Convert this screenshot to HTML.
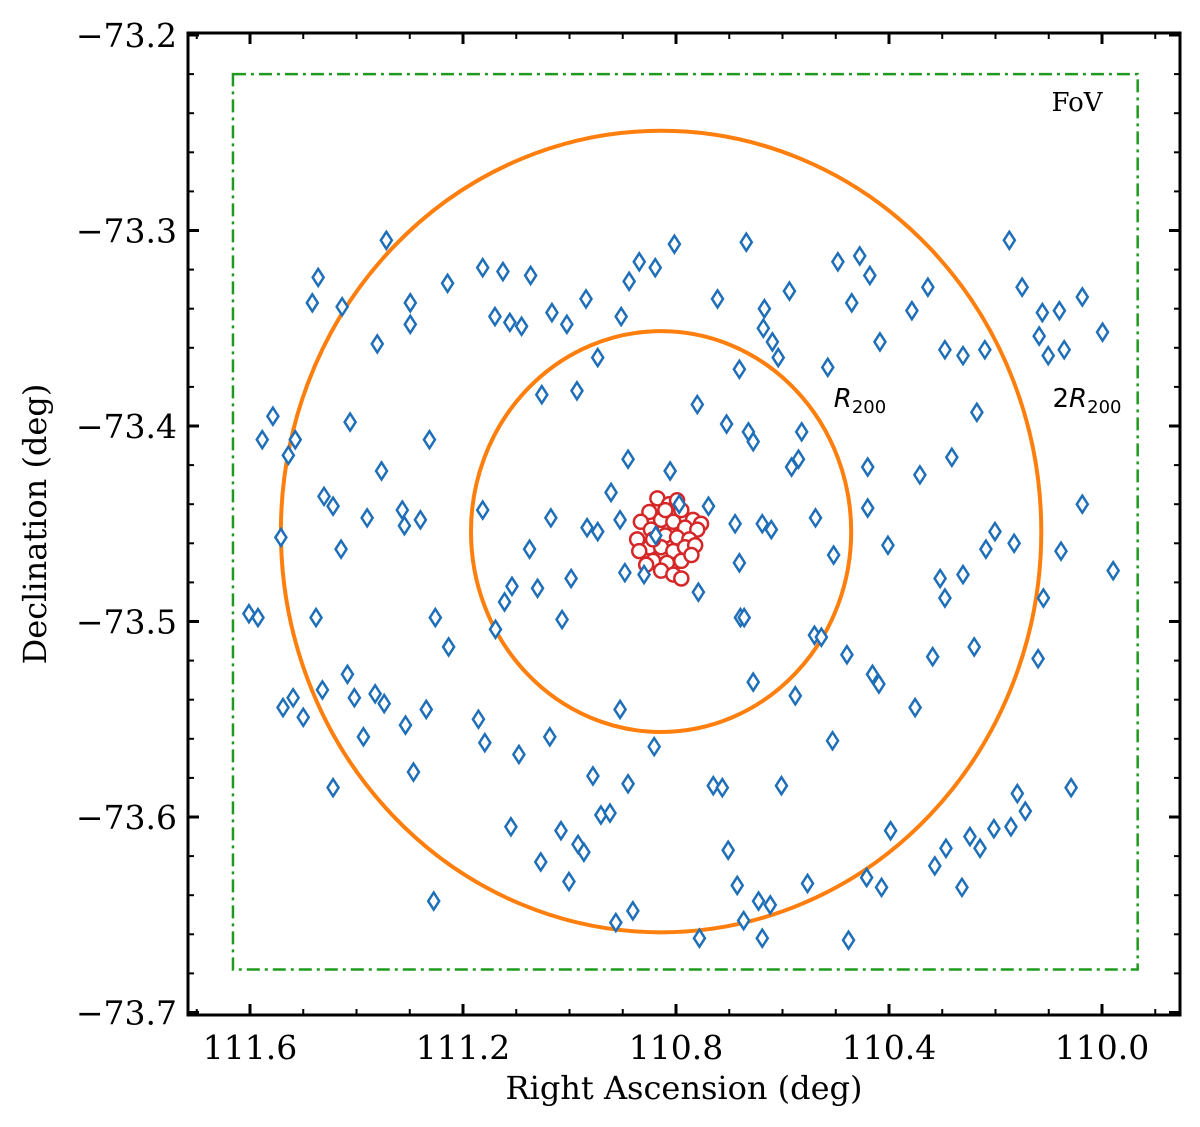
<!DOCTYPE html>
<html><head><meta charset="utf-8"><style>
body{margin:0;background:#fff}
svg{display:block;font-family:"DejaVu Serif","Liberation Serif",serif}
</style></head><body>
<svg id="chart" width="1200" height="1127" viewBox="0 0 1200 1127" xmlns="http://www.w3.org/2000/svg">
<g id="plot"></g>
<g id="axes"></g>
</svg>
<script>
const raTicks=[111.6,111.2,110.8,110.4,110.0];
const raTickLabels=["111.6","111.2","110.8","110.4","110.0"];
const decTicks=[-73.2,-73.3,-73.4,-73.5,-73.6,-73.7];
const decTickLabels=["\u221273.2","\u221273.3","\u221273.4","\u221273.5","\u221273.6","\u221273.7"];
const fieldRA=[111.344,111.472,111.483,111.427,111.602,111.585,111.557,111.577,111.515,111.528,111.542,111.476,111.461,111.444,111.412,111.429,111.361,111.299,111.299,111.353,111.314,111.310,111.380,111.538,111.519,111.500,111.464,111.417,111.404,111.365,111.387,111.348,111.444,111.308,111.293,111.269,111.263,111.229,111.252,111.227,111.255,111.280,111.163,111.125,111.140,111.112,111.090,111.073,111.163,111.122,111.108,111.139,111.171,111.159,111.095,111.110,111.033,111.005,110.969,111.052,110.986,111.035,111.075,111.060,110.997,111.014,111.037,111.054,111.016,111.001,110.984,110.973,110.947,110.967,110.947,110.922,110.905,110.890,110.896,110.956,110.941,110.924,110.890,110.913,110.881,110.903,110.888,110.869,110.839,110.803,110.860,110.811,110.841,110.760,110.794,110.758,110.739,110.681,110.679,110.905,110.722,110.668,110.681,110.634,110.636,110.587,110.619,110.608,110.705,110.664,110.655,110.689,110.638,110.621,110.672,110.655,110.730,110.713,110.702,110.685,110.673,110.645,110.638,110.623,110.602,110.576,110.553,110.756,110.583,110.570,110.564,110.538,110.540,110.527,110.504,110.506,110.515,110.479,110.440,110.440,110.431,110.419,110.496,110.455,110.436,110.470,110.417,110.402,110.476,110.442,110.414,110.397,110.351,110.342,110.357,110.327,110.295,110.282,110.318,110.304,110.295,110.293,110.314,110.263,110.261,110.235,110.240,110.220,110.261,110.248,110.229,110.203,110.171,110.144,110.159,110.218,110.201,110.165,110.174,110.150,110.112,110.118,110.101,110.071,110.080,109.999,110.037,110.037,110.077,110.120,110.110,110.058,109.979,110.838];
const fieldDec=[-73.305,-73.324,-73.337,-73.339,-73.496,-73.498,-73.395,-73.407,-73.407,-73.415,-73.457,-73.498,-73.436,-73.441,-73.398,-73.463,-73.358,-73.337,-73.348,-73.423,-73.443,-73.451,-73.447,-73.544,-73.539,-73.549,-73.535,-73.527,-73.539,-73.537,-73.559,-73.542,-73.585,-73.553,-73.577,-73.545,-73.407,-73.327,-73.498,-73.513,-73.643,-73.448,-73.319,-73.321,-73.344,-73.347,-73.349,-73.323,-73.443,-73.490,-73.482,-73.504,-73.550,-73.562,-73.568,-73.605,-73.342,-73.348,-73.335,-73.384,-73.382,-73.447,-73.463,-73.483,-73.478,-73.499,-73.559,-73.623,-73.607,-73.633,-73.614,-73.618,-73.365,-73.452,-73.454,-73.434,-73.448,-73.417,-73.475,-73.579,-73.599,-73.598,-73.583,-73.654,-73.648,-73.344,-73.326,-73.316,-73.319,-73.307,-73.476,-73.423,-73.564,-73.389,-73.440,-73.485,-73.441,-73.470,-73.498,-73.545,-73.335,-73.306,-73.371,-73.340,-73.350,-73.331,-73.357,-73.365,-73.399,-73.403,-73.408,-73.450,-73.450,-73.453,-73.498,-73.531,-73.584,-73.585,-73.617,-73.635,-73.653,-73.643,-73.662,-73.645,-73.584,-73.538,-73.634,-73.662,-73.421,-73.417,-73.403,-73.447,-73.507,-73.508,-73.466,-73.561,-73.370,-73.517,-73.421,-73.442,-73.527,-73.532,-73.316,-73.313,-73.323,-73.337,-73.357,-73.461,-73.663,-73.631,-73.636,-73.607,-73.544,-73.425,-73.341,-73.329,-73.361,-73.416,-73.518,-73.478,-73.488,-73.616,-73.625,-73.636,-73.364,-73.393,-73.513,-73.361,-73.476,-73.610,-73.616,-73.606,-73.605,-73.597,-73.588,-73.463,-73.454,-73.460,-73.305,-73.329,-73.342,-73.354,-73.364,-73.361,-73.341,-73.352,-73.334,-73.440,-73.464,-73.519,-73.488,-73.585,-73.474,-73.456];
const memberRA=[110.835,110.813,110.790,110.768,110.753,110.850,110.828,110.805,110.783,110.760,110.866,110.847,110.820,110.798,110.775,110.873,110.850,110.828,110.805,110.783,110.764,110.869,110.843,110.817,110.790,110.771,110.856,110.828,110.805,110.790,110.843,110.820,110.798];
const memberDec=[-73.437,-73.440,-73.443,-73.448,-73.450,-73.444,-73.448,-73.449,-73.452,-73.453,-73.449,-73.453,-73.456,-73.457,-73.458,-73.458,-73.462,-73.462,-73.464,-73.462,-73.461,-73.464,-73.469,-73.470,-73.469,-73.466,-73.471,-73.474,-73.476,-73.478,-73.458,-73.443,-73.438];
const center=[110.828,-73.454];
const r200=[0.357,0.1025];
const fov=[111.632,109.933,-73.220,-73.678];

const NS="http://www.w3.org/2000/svg";
const L=188,R=1180,T=33,B=1015;
const xS=v=>250+(111.6-v)*532.5;
function yMap(v){return 35+(-73.2-v)*1955;}
function mk(tag,attrs,parent){const e=document.createElementNS(NS,tag);for(const k in attrs)e.setAttribute(k,attrs[k]);parent.appendChild(e);return e;}
const plot=document.getElementById('plot'),axes=document.getElementById('axes');

const fr=mk('rect',{x:xS(fov[0]),y:yMap(fov[2]),width:xS(fov[1])-xS(fov[0]),height:yMap(fov[3])-yMap(fov[2]),fill:'none',stroke:'#1f9a1f','stroke-width':2.5,'stroke-dasharray':'13,5,3,5'},plot);


[[1,'r200-circle'],[2,'2r200-circle']].forEach(([k,n])=>{
 const e=mk('ellipse',{cx:xS(center[0]),cy:yMap(center[1]),rx:r200[0]*k*532.5,ry:r200[1]*k*1955,fill:'none',stroke:'#ff7f0e','stroke-width':4},plot);
 
 
});
memberRA.forEach((ra,i)=>{
 const c=mk('circle',{cx:xS(ra),cy:yMap(memberDec[i]),r:7,fill:'#fff',stroke:'#d62728','stroke-width':2.5},plot);
 
 
});
fieldRA.forEach((ra,i)=>{
 const x=xS(ra),y=yMap(fieldDec[i]);
 const p=mk('path',{d:`M${x},${y-8.5}L${x+5.5},${y}L${x},${y+8.5}L${x-5.5},${y}Z`,fill:'#fff',stroke:'#1f6fb8','stroke-width':2.5},plot);
 
 
});
const fovT=mk('text',{x:1077,y:111,'font-size':26,'text-anchor':'middle'},plot);fovT.textContent='FoV';


[[860,'',"r200-label"],[1087,'2',"2r200-label"]].forEach(([x,pre,n])=>{
 const t=mk('text',{x:x,y:407,'font-size':26,'text-anchor':'middle','font-family':'DejaVu Sans, sans-serif'},plot);
 t.innerHTML=pre+'<tspan font-style="italic">R</tspan><tspan font-size="18" dy="6">200</tspan>';
 
 
});
const fr2=mk('rect',{x:L,y:T,width:R-L,height:B-T,fill:'none',stroke:'#000','stroke-width':3},axes);


for(let v=111.7;v>=109.85;v-=0.1){const x=xS(v);if(x<L||x>R)continue;
 mk('line',{x1:x,x2:x,y1:B,y2:B-6,stroke:'#000','stroke-width':2},axes);mk('line',{x1:x,x2:x,y1:T,y2:T+6,stroke:'#000','stroke-width':2},axes);}
raTicks.forEach((v,i)=>{const x=xS(v);
 mk('line',{x1:x,x2:x,y1:B,y2:B-11,stroke:'#000','stroke-width':3},axes);mk('line',{x1:x,x2:x,y1:T,y2:T+11,stroke:'#000','stroke-width':3},axes);
 const t=mk('text',{x:x,y:1059,'font-size':33,'text-anchor':'middle'},axes);t.textContent=raTickLabels[i];
 
 });
for(let k=0;k<=25;k++){const v=-73.2-k*0.02;const y=yMap(v);
 mk('line',{x1:L,x2:L+6,y1:y,y2:y,stroke:'#000','stroke-width':2},axes);mk('line',{x1:R,x2:R-6,y1:y,y2:y,stroke:'#000','stroke-width':2},axes);}
decTicks.forEach((v,i)=>{const y=yMap(v);
 mk('line',{x1:L,x2:L+11,y1:y,y2:y,stroke:'#000','stroke-width':3},axes);mk('line',{x1:R,x2:R-11,y1:y,y2:y,stroke:'#000','stroke-width':3},axes);
 const t=mk('text',{x:177,y:y+12,'font-size':33,'text-anchor':'end'},axes);t.textContent=decTickLabels[i];
 
 });
const xt=mk('text',{x:684,y:1099,'font-size':32,'text-anchor':'middle'},axes);xt.textContent='Right Ascension (deg)';


const yt=mk('text',{x:46,y:524,'font-size':32,'text-anchor':'middle',transform:'rotate(-90 46 524)'},axes);yt.textContent='Declination (deg)';


</script>
</body></html>
